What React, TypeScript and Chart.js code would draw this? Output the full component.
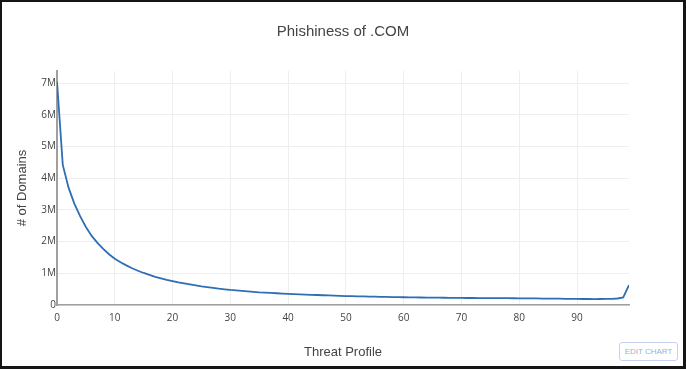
import React, { useEffect, useRef } from 'react';
import { Chart, registerables } from 'chart.js';

Chart.register(...registerables);

const chartTitle = 'Phishiness of .COM';
const xAxisTitle = 'Threat Profile';
const yAxisTitle = '# of Domains';

// Number of domains (millions) for threat profile 0..99
const domainsMillions = [
  7.05, 4.42, 3.70, 3.20, 2.80, 2.46, 2.18, 1.96, 1.77, 1.60,
  1.46, 1.35, 1.25, 1.16, 1.08, 1.01, 0.95, 0.89, 0.84, 0.79,
  0.75, 0.71, 0.68, 0.65, 0.62, 0.59, 0.565, 0.54, 0.515, 0.495,
  0.475, 0.46, 0.445, 0.43, 0.415, 0.40, 0.39, 0.38, 0.37, 0.36,
  0.35, 0.343, 0.336, 0.329, 0.322, 0.315, 0.308, 0.301, 0.295, 0.289,
  0.283, 0.279, 0.275, 0.271, 0.267, 0.263, 0.259, 0.255, 0.251, 0.247,
  0.244, 0.241, 0.238, 0.236, 0.234, 0.232, 0.230, 0.228, 0.226, 0.224,
  0.222, 0.221, 0.220, 0.219, 0.218, 0.217, 0.216, 0.215, 0.214, 0.213,
  0.212, 0.210, 0.208, 0.206, 0.204, 0.202, 0.200, 0.198, 0.196, 0.194,
  0.192, 0.190, 0.189, 0.188, 0.189, 0.191, 0.195, 0.205, 0.24, 0.63,
];

const xTicks = [0, 10, 20, 30, 40, 50, 60, 70, 80, 90];
const yTicksMillions = [0, 1, 2, 3, 4, 5, 6, 7];
const xMax = 99;
const yMaxMillions = 7.38;

export default function App() {
  const canvasRef = useRef<HTMLCanvasElement | null>(null);

  useEffect(() => {
    const canvas = canvasRef.current;
    if (!canvas) return;
    const points = domainsMillions.map((v, i) => ({ x: i, y: v * 1e6 }));
    const chart = new Chart(canvas, {
      type: 'line',
      data: {
        datasets: [
          {
            data: points,
            borderColor: 'rgb(45,110,180)',
            borderWidth: 1.8,
            pointRadius: 0,
            tension: 0,
            fill: false,
            yAxisID: 'y',
          },
        ],
      },
      options: {
        responsive: false,
        animation: false,
        layout: { padding: 0 },
        plugins: {
          legend: { display: false },
          tooltip: { enabled: false },
          title: {
            display: true,
            text: chartTitle,
            color: '#444',
            font: { family: '"Liberation Sans", Arial, sans-serif', size: 15, weight: 'normal', lineHeight: 1.2 },
            padding: { top: 23, bottom: 30 },
          },
        },
        scales: {
          x: {
            type: 'linear',
            min: 0,
            max: xMax,
            afterBuildTicks: (scale: any) => {
              scale.ticks = xTicks.map((v) => ({ value: v }));
            },
            afterFit: (scale: any) => {
              scale.height = 64;
            },
            grid: { color: '#eeeeee', lineWidth: 1, drawTicks: false },
            border: { display: true, color: '#a0a0a0', width: 1.5 },
            ticks: {
              color: '#444',
              padding: 7,
              maxRotation: 0,
              font: { family: '"Open Sans", sans-serif', size: 10 },
            },
            title: {
              display: true,
              text: xAxisTitle,
              color: '#444',
              font: { family: '"Liberation Sans", Arial, sans-serif', size: 13, lineHeight: 1.2 },
              padding: { top: 0, bottom: 9 },
            },
          },
          y: {
            type: 'linear',
            position: 'left',
            min: 0,
            max: yMaxMillions * 1e6,
            afterBuildTicks: (scale: any) => {
              scale.ticks = yTicksMillions.map((v) => ({ value: v * 1e6 }));
            },
            afterFit: (scale: any) => {
              scale.width = 57;
            },
            grid: { color: '#eeeeee', lineWidth: 1, drawTicks: false },
            border: { display: true, color: '#a0a0a0', width: 2 },
            ticks: {
              color: '#444',
              padding: 1,
              font: { family: '"Open Sans", sans-serif', size: 10 },
              callback: (v: any) => (Number(v) === 0 ? '0' : Number(v) / 1e6 + 'M'),
            },
            title: {
              display: true,
              text: yAxisTitle,
              color: '#444',
              font: { family: '"Liberation Sans", Arial, sans-serif', size: 13, lineHeight: 1.2 },
              padding: { top: 15, bottom: 0 },
            },
          },
          rightSpace: {
            type: 'linear',
            position: 'right',
            min: 0,
            max: 1,
            afterFit: (scale: any) => {
              scale.width = 57;
            },
            grid: { display: false, drawTicks: false },
            border: { display: false },
            ticks: { display: false },
          },
        },
      },
    });
    return () => chart.destroy();
  }, []);

  return (
    <div style={{ position: 'fixed', left: 0, top: 0, width: 686, height: 369, background: '#fff', overflow: 'hidden' }}>
      <canvas ref={canvasRef} width={686} height={369} style={{ position: 'absolute', left: 0, top: 0, width: 686, height: 369 }} />
      <div
        style={{
          position: 'absolute',
          left: 619,
          top: 342,
          width: 59,
          height: 19,
          boxSizing: 'border-box',
          border: '1px solid #c5d3ee',
          borderRadius: 3,
          color: '#9cb0d8',
          fontFamily: '"Liberation Sans", Arial, sans-serif',
          fontSize: 8,
          lineHeight: '17px',
          textAlign: 'center',
          background: '#fff',
        }}
      >
        EDIT CHART
      </div>
      <div
        style={{
          position: 'absolute',
          left: 0,
          top: 0,
          width: 686,
          height: 369,
          boxSizing: 'border-box',
          borderStyle: 'solid',
          borderColor: '#151515',
          borderWidth: '2px 3px 3px 2px',
          pointerEvents: 'none',
        }}
      />
    </div>
  );
}
